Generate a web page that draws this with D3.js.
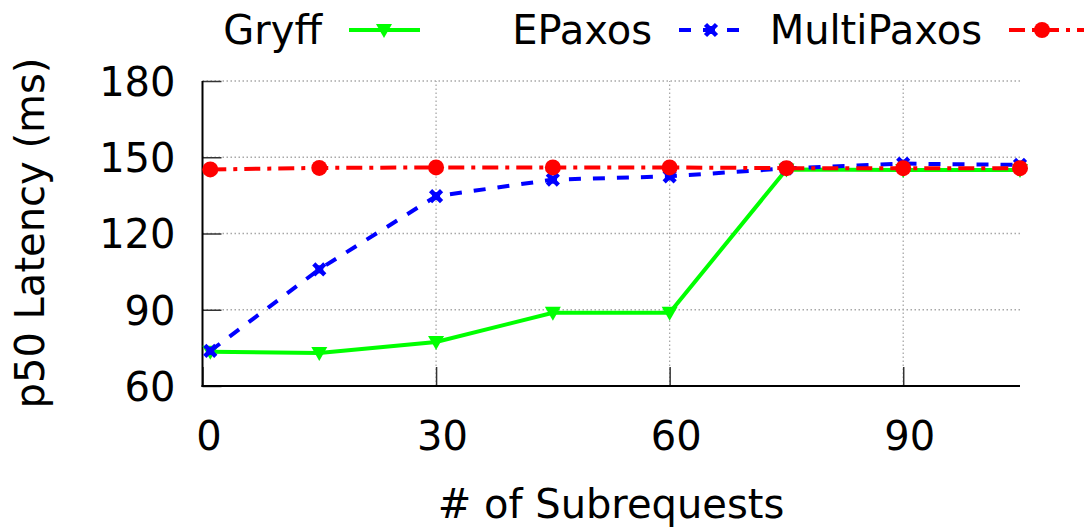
<!DOCTYPE html>
<html><head><meta charset="utf-8">
<script src="https://cdn.jsdelivr.net/npm/d3@7"></script>
<style>html,body{margin:0;padding:0;background:#fff;}svg{display:block;font-family:"DejaVu Sans",sans-serif;}</style>
</head><body>
<script>
const xValues = [1, 15, 30, 45, 60, 75, 90, 105];
const gryff = [73.5, 73, 77.3, 88.8, 88.8, 145.2, 145, 145];
const epaxos = [73.8, 105.9, 134.7, 141.2, 142.5, 145.6, 147.5, 147];
const multipaxos = [145.2, 145.8, 146, 146, 146, 145.7, 145.7, 145.7];
const xTicks = [0, 30, 60, 90];
const yTicks = [60, 90, 120, 150, 180];
const seriesNames = ["Gryff", "EPaxos", "MultiPaxos"];
const xTitle = "# of Subrequests";
const yTitle = "p50 Latency (ms)";

const W = 1084, H = 529;
const svg = d3.select("body").append("svg").attr("width", W).attr("height", H);
const x = d3.scaleLinear().domain([0, 105]).range([202.5, 1020]);
const y = d3.scaleLinear().domain([60, 180]).range([386, 81]);
const FS = 40;

// grid
const g = svg.append("g");
g.selectAll(".hg").data(yTicks.filter(v => v > 60)).join("line")
  .attr("x1", x(0)).attr("x2", x(105)).attr("y1", d => y(d)).attr("y2", d => y(d))
  .attr("stroke", "#a8a8a8").attr("stroke-width", 1.3).attr("stroke-dasharray", "1.5,2.5");
g.selectAll(".vg").data(xTicks.filter(v => v > 0)).join("line")
  .attr("x1", d => x(d)).attr("x2", d => x(d)).attr("y1", y(60)).attr("y2", y(180))
  .attr("stroke", "#a8a8a8").attr("stroke-width", 1.3).attr("stroke-dasharray", "1.5,2.5");

// axes via d3 axis (ticks inward)
const yAxis = d3.axisLeft(y).tickValues(yTicks).tickSize(-19).tickPadding(27);
const xAxis = d3.axisBottom(x).tickValues(xTicks).tickSize(-19).tickPadding(36);
const ya = svg.append("g").attr("transform", `translate(${x(0)},0)`).call(yAxis);
const xa = svg.append("g").attr("transform", `translate(0,${y(60)})`).call(xAxis);
[ya, xa].forEach(a => {
  a.select(".domain").remove();
  a.selectAll(".tick line").attr("stroke", "#333").attr("stroke-width", 1.5);
  a.selectAll("text").attr("font-size", FS).attr("fill", "#000").attr("font-family", "DejaVu Sans");
});
ya.selectAll("text").attr("dy", "0.36em");
xa.selectAll("text").attr("dy", "0.71em").attr("dx", 6);
// axis lines
svg.append("line").attr("x1", x(0)).attr("x2", x(0)).attr("y1", y(180)).attr("y2", y(60)+1).attr("stroke", "#000").attr("stroke-width", 2);
svg.append("line").attr("x1", x(0)-1).attr("x2", x(105)).attr("y1", y(60)).attr("y2", y(60)).attr("stroke", "#000").attr("stroke-width", 2);

// titles
svg.append("text").attr("x", 611).attr("y", 518).attr("text-anchor", "middle").attr("font-size", FS).text(xTitle);
svg.append("text").attr("transform", `translate(44,233) rotate(-90)`).attr("text-anchor", "middle").attr("font-size", FS).text(yTitle);

const styles = [
  {color: "#00ff00", dash: null, marker: "tri"},
  {color: "#0000ff", dash: "12,12", marker: "x"},
  {color: "#ff0000", dash: "16,7,4,7", marker: "circle"}
];
const data = [gryff, epaxos, multipaxos];
const line = d3.line().x(d => x(d[0])).y(d => y(d[1]));

function drawMarker(sel, type, color, cx, cy) {
  if (type === "tri") {
    sel.append("path").attr("d", `M${cx-8},${cy-6} L${cx+8},${cy-6} L${cx},${cy+8} Z`).attr("fill", color);
  } else if (type === "x") {
    const s = 5.5;
    sel.append("path").attr("d", `M${cx-s},${cy-s} L${cx+s},${cy+s} M${cx-s},${cy+s} L${cx+s},${cy-s}`)
      .attr("stroke", color).attr("stroke-width", 4.5).attr("fill", "none");
    sel.append("rect").attr("x", cx-4).attr("y", cy-4).attr("width", 8).attr("height", 8).attr("fill", color);
  } else {
    sel.append("circle").attr("cx", cx).attr("cy", cy).attr("r", 8).attr("fill", color);
  }
}

data.forEach((vals, i) => {
  const st = styles[i];
  const pts = xValues.map((xv, j) => [xv, vals[j]]);
  const gg = svg.append("g");
  gg.append("path").attr("d", line(pts)).attr("fill", "none").attr("stroke", st.color)
    .attr("stroke-width", 4).attr("stroke-dasharray", st.dash);
  pts.forEach(p => drawMarker(gg, st.marker, st.color, x(p[0]), y(p[1])));
});

// legend
const legend = [
  {textRight: 322, x1: 349, x2: 420, mx: 384},
  {textRight: 652, x1: 679, x2: 740, mx: 711},
  {textRight: 982, x1: 1009, x2: 1084, mx: 1042}
];
legend.forEach((l, i) => {
  const st = styles[i];
  const ly = 30;
  svg.append("text").attr("x", l.textRight).attr("y", ly).attr("dy", "0.36em").attr("text-anchor", "end")
    .attr("font-size", FS).text(seriesNames[i]);
  const lg = svg.append("g");
  lg.append("line").attr("x1", l.x1).attr("x2", l.x2).attr("y1", ly).attr("y2", ly)
    .attr("stroke", st.color).attr("stroke-width", 4).attr("stroke-dasharray", st.dash);
  drawMarker(lg, st.marker, st.color, l.mx, ly);
});
</script>
</body></html>
